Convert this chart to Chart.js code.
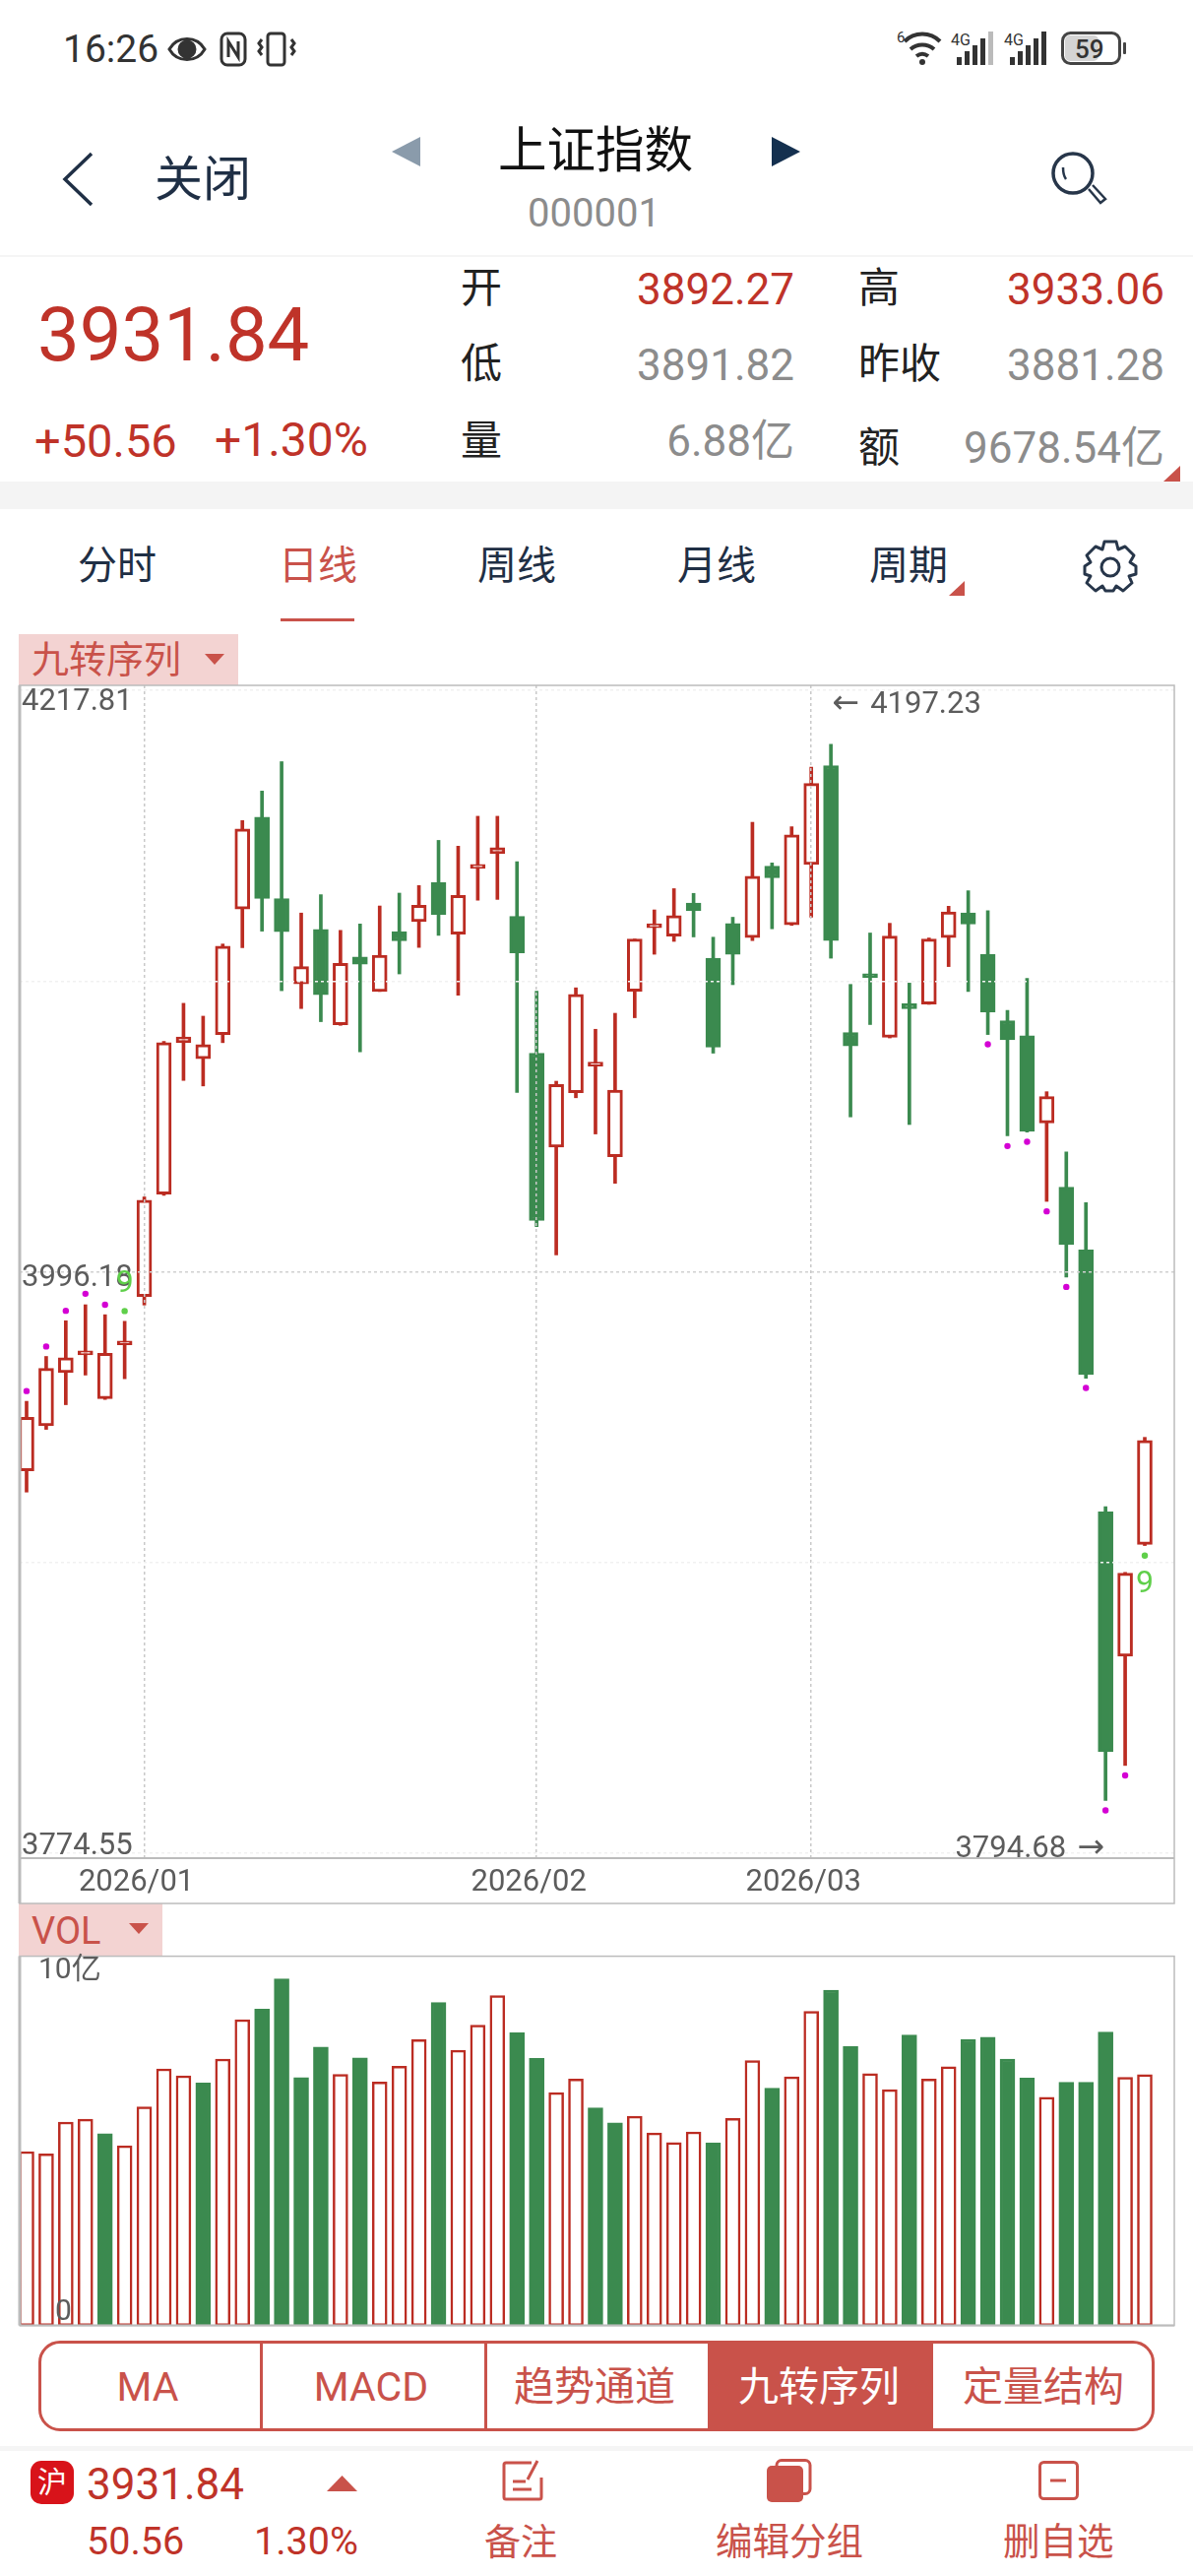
<!DOCTYPE html>
<html lang="zh-CN">
<head>
<meta charset="UTF-8">
<title>上证指数</title>
<style>
    html, body { margin: 0; padding: 0; background: #fff; }
    #page { position: relative; width: 1212px; height: 2616px; overflow: hidden; background: #fff;
        font-family: Roboto, "Noto Sans CJK SC", sans-serif; }
    .t { position: absolute; line-height: 1; white-space: nowrap; transform: translateY(-50%); }
    .r { color: #bf3329; }
    .g { color: #8c8c8c; }
    .n { color: #1f2f45; }
    .a { color: #c9524a; }
    .b { position: absolute; }
    canvas { position: absolute; left: 0; }
    svg { position: absolute; overflow: visible; }
</style>
</head>
<body>
<div id="page">
    <!-- status bar -->
    <div class="t" style="left:64px;top:50px;font-size:39px;color:#333">16:26</div>
    <svg style="left:170px;top:32px" width="40" height="36" fill="none" stroke="#333" stroke-width="3"><path d="M2 18C10 4 30 4 38 18C30 32 10 32 2 18Z"/><circle cx="20" cy="18" r="8" fill="#333"/></svg>
    <svg style="left:223px;top:32px" width="28" height="36" fill="none" stroke="#333" stroke-width="3"><rect x="2" y="2" width="24" height="32" rx="6"/><path d="M9 26V10L19 26V10"/></svg>
    <svg style="left:261px;top:32px" width="40" height="36" fill="none" stroke="#333" stroke-width="3"><rect x="11" y="2" width="17" height="32" rx="3"/><path d="M5 8l-3 4 3 4-3 4 3 4M35 8l3 4-3 4 3 4-3 4"/></svg>
    <svg style="left:913px;top:30px" width="46" height="36" fill="none" stroke="#333" stroke-width="4"><path d="M6 12C16 2 32 2 42 12M12 20C19 14 29 14 36 20M18 27C22 24 26 24 30 27"/><circle cx="24" cy="33" r="3" fill="#333" stroke="none"/></svg>
    <div class="t" style="left:911px;top:38px;font-size:15px;color:#333">6</div>
    <svg style="left:966px;top:32px" width="46" height="34" fill="#333"><rect x="6" y="26" width="5" height="8"/><rect x="14" y="20" width="5" height="14"/><rect x="22" y="14" width="5" height="20"/><rect x="30" y="7" width="5" height="27"/><rect x="38" y="0" width="5" height="34" fill="#bbb"/></svg>
    <div class="t" style="left:966px;top:41px;font-size:16px;color:#333">4G</div>
    <svg style="left:1020px;top:32px" width="46" height="34" fill="#333"><rect x="6" y="26" width="5" height="8"/><rect x="14" y="20" width="5" height="14"/><rect x="22" y="14" width="5" height="20"/><rect x="30" y="7" width="5" height="27"/><rect x="38" y="0" width="5" height="34"/></svg>
    <div class="t" style="left:1020px;top:41px;font-size:16px;color:#333">4G</div>
    <svg style="left:1078px;top:32px" width="66" height="34"><rect x="1.5" y="1.5" width="58" height="31" rx="8" fill="#fff" stroke="#444" stroke-width="3"/><rect x="4" y="4" width="34" height="26" rx="5" fill="#d4d4d4"/><rect x="63" y="11" width="3" height="12" rx="1" fill="#444"/></svg>
    <div class="t" style="left:1092px;top:50px;font-size:26px;color:#333;font-weight:500">59</div>

    <!-- header -->
    <svg style="left:63px;top:155px" width="32" height="54" fill="none" stroke="#1f2f45" stroke-width="3.5"><path d="M30 1L3 27L30 53"/></svg>
    <div class="t n" style="left:157px;top:182px;font-size:49px">关闭</div>
    <svg style="left:398px;top:139px" width="30" height="30" fill="#8a9bab"><path d="M29 0V30L0 15Z"/></svg>
    <div class="t" style="left:506px;top:154px;font-size:49.5px;color:#111">上证指数</div>
    <svg style="left:784px;top:139px" width="30" height="30" fill="#14304f"><path d="M0 0V30L29 15Z"/></svg>
    <div class="t g" style="left:536px;top:217px;font-size:40px">000001</div>
    <svg style="left:1068px;top:154px" width="58" height="56" fill="none" stroke="#27364a" stroke-width="3.5"><circle cx="22" cy="22" r="20"/><path d="M12 16C12 20 12 24 15 28" stroke-width="2.5"/><path d="M38 38L50 52L55 48L42 34" stroke-width="2.5"/></svg>
    <div class="b" style="left:0;top:259px;width:1212px;height:2px;background:#f5f5f5"></div>

    <!-- quote block -->
    <div class="t r" style="left:38px;top:340px;font-size:76px">3931.84</div>
    <div class="t r" style="left:35px;top:447px;font-size:47px">+50.56</div>
    <div class="t r" style="left:218px;top:447px;font-size:48px">+1.30%</div>

    <div class="t n" style="left:468px;top:293px;font-size:42px;color:#222">开</div>
    <div class="t r" style="right:405px;top:294px;font-size:44px">3892.27</div>
    <div class="t n" style="left:872px;top:293px;font-size:42px;color:#222">高</div>
    <div class="t r" style="right:29px;top:294px;font-size:44px">3933.06</div>

    <div class="t n" style="left:468px;top:370px;font-size:42px;color:#222">低</div>
    <div class="t g" style="right:405px;top:371px;font-size:44px">3891.82</div>
    <div class="t n" style="left:872px;top:370px;font-size:42px;color:#222">昨收</div>
    <div class="t g" style="right:29px;top:371px;font-size:44px">3881.28</div>

    <div class="t n" style="left:468px;top:448px;font-size:42px;color:#222">量</div>
    <div class="t g" style="right:405px;top:448px;font-size:44px">6.88亿</div>
    <div class="t n" style="left:872px;top:455px;font-size:42px;color:#222">额</div>
    <div class="t g" style="right:29px;top:455px;font-size:44px">9678.54亿</div>
    <svg style="left:1182px;top:473px" width="17" height="16" fill="#c9524a"><path d="M17 0V16H0Z"/></svg>
    <div class="b" style="left:0;top:489px;width:1212px;height:28px;background:#f4f4f4"></div>

    <!-- period tabs -->
    <div class="t n" style="left:79px;top:575px;font-size:40px">分时</div>
    <div class="t a" style="left:283px;top:575px;font-size:40px">日线</div>
    <div class="t n" style="left:485px;top:575px;font-size:40px">周线</div>
    <div class="t n" style="left:688px;top:575px;font-size:40px">月线</div>
    <div class="t n" style="left:883px;top:575px;font-size:40px">周期</div>
    <svg style="left:964px;top:590px" width="16" height="15" fill="#c9524a"><path d="M16 0V15H0Z"/></svg>
    <svg style="left:1100px;top:548px" width="56" height="54" fill="none" stroke="#27364a" stroke-width="3"><path d="M22 2H34L36 10L43 7L52 16L48 23L54 27V27L54 35L47 37L50 44L41 52L34 47L31 52H23L20 47L13 52L4 44L8 37L2 35V27L8 23L4 16L13 7L20 10Z" stroke-linejoin="round"/><circle cx="28" cy="28" r="9"/></svg>
    <div class="b" style="left:285px;top:628px;width:75px;height:3px;background:#c9524a"></div>

    <!-- indicator tags -->
    <div class="b" style="left:19px;top:644px;width:223px;height:52px;background:#f3d3d2"></div>
    <div class="t a" style="left:32px;top:670px;font-size:38px">九转序列</div>
    <svg style="left:208px;top:664px" width="20" height="11" fill="#c9524a"><path d="M0 0H20L10 11Z"/></svg>
    <div class="b" style="left:19px;top:1933px;width:146px;height:53px;background:#f3d3d2"></div>
    <div class="t a" style="left:32px;top:1961px;font-size:38px">VOL</div>
    <svg style="left:131px;top:1953px" width="20" height="11" fill="#c9524a"><path d="M0 0H20L10 11Z"/></svg>

    <canvas id="price-chart" width="1212" height="1260" style="top:680px"></canvas>
    <canvas id="vol-chart" width="1212" height="390" style="top:1980px"></canvas>

    <!-- indicator buttons -->
    <div class="b" style="left:39px;top:2377px;width:1134px;height:92px;box-sizing:border-box;border:3px solid #c9524a;border-radius:22px;overflow:hidden">
        <div class="b" style="left:222px;top:0;width:3px;height:86px;background:#c9524a"></div>
        <div class="b" style="left:450px;top:0;width:3px;height:86px;background:#c9524a"></div>
        <div class="b" style="left:677px;top:0;width:229px;height:86px;background:#c9524a"></div>
    </div>
    <div class="t a" style="left:150px;top:2424px;font-size:41px;transform:translate(-50%,-50%)">MA</div>
    <div class="t a" style="left:377px;top:2424px;font-size:41px;transform:translate(-50%,-50%)">MACD</div>
    <div class="t a" style="left:604px;top:2424px;font-size:41px;transform:translate(-50%,-50%)">趋势通道</div>
    <div class="t" style="left:832px;top:2424px;font-size:41px;color:#fff;transform:translate(-50%,-50%)">九转序列</div>
    <div class="t a" style="left:1060px;top:2424px;font-size:41px;transform:translate(-50%,-50%)">定量结构</div>

    <!-- bottom bar -->
    <div class="b" style="left:0;top:2484px;width:1212px;height:5px;background:#f5f5f5"></div>
    <div class="b" style="left:31px;top:2499px;width:44px;height:44px;border-radius:11px;background:#d8131a"></div>
    <div class="t" style="left:38px;top:2521px;font-size:30px;color:#fff">沪</div>
    <div class="t r" style="left:88px;top:2523px;font-size:44px">3931.84</div>
    <svg style="left:332px;top:2514px" width="31" height="16" fill="#c9524a"><path d="M0 16H31L15.5 0Z"/></svg>
    <div class="t r" style="left:88px;top:2581px;font-size:39.5px">50.56</div>
    <div class="t r" style="left:258px;top:2581px;font-size:39.5px">1.30%</div>

    <svg style="left:510px;top:2498px" width="44" height="44" fill="none" stroke="#c9524a" stroke-width="3"><path d="M30 3H4A2 2 0 0 0 2 5V38A2 2 0 0 0 4 40H38A2 2 0 0 0 40 38V18"/><path d="M36 1L26 20M11 22H24M11 30H30"/></svg>
    <div class="t a" style="left:492px;top:2582px;font-size:37px">备注</div>
    <svg style="left:779px;top:2497px" width="46" height="44"><rect x="10" y="1.5" width="34" height="34" rx="5" fill="#fff" stroke="#c9524a" stroke-width="3"/><rect x="0" y="7" width="37" height="37" rx="5" fill="#c9524a"/></svg>
    <div class="t a" style="left:727px;top:2582px;font-size:37.5px">编辑分组</div>
    <svg style="left:1055px;top:2499px" width="41" height="40" fill="none" stroke="#c9524a" stroke-width="3"><rect x="1.5" y="1.5" width="38" height="37" rx="4"/><path d="M12 20H28"/></svg>
    <div class="t a" style="left:1019px;top:2582px;font-size:37.5px">删自选</div>
</div>

<script src="https://cdn.jsdelivr.net/npm/chart.js@4.4.1/dist/chart.umd.min.js"></script>
<script>
    const opens = [3920.3,3937.5,3957.7,3964.5,3947.8,3968.3,3986.7,4025.8,4083.5,4077.4,
        4086.6,4134.4,4169.5,4138.4,4105.9,4126.7,4090.3,4116.2,4103.0,4125.8,
        4129.6,4144.5,4124.9,4149.9,4155.5,4131.6,4079.5,4043.7,4064.4,4074.6,
        4040.0,4103.1,4127.3,4124.1,4136.7,4115.7,4128.9,4123.5,4150.8,4128.4,
        4151.4,4189.1,4087.4,4109.6,4085.5,4098.4,4098.2,4123.5,4133.0,4117.2,
        4091.9,4086.1,4052.9,4028.4,4004.5,3904.7,3849.6,3892.27];
    const closes = [3940.7,3959.4,3963.4,3965.5,3965.1,3969.1,4023.5,4083.5,4085.7,4082.8,
        4120.3,4165.0,4138.5,4125.8,4112.5,4101.8,4113.7,4113.4,4116.8,4122.3,
        4135.9,4132.4,4139.6,4151.1,4157.8,4117.7,4015.7,4067.6,4101.9,4075.7,
        4065.4,4123.0,4128.4,4131.9,4133.8,4081.8,4117.2,4146.9,4146.3,4162.7,
        4182.3,4122.4,4082.3,4108.3,4124.1,4096.4,4123.0,4133.3,4128.7,4095.2,
        4084.6,4049.7,4063.0,4006.5,3957.0,3813.2,3881.28,3931.84];
    const highs = [3946.8,3963.9,3977.5,3983.6,3979.8,3977.3,4024.7,4084.0,4098.5,4093.6,
        4121.1,4168.1,4179.4,4190.6,4132.9,4139.9,4126.3,4128.7,4135.6,4140.5,
        4143.4,4160.6,4158.4,4169.8,4169.8,4152.5,4103.1,4068.8,4104.4,4088.6,
        4094.7,4123.0,4134.1,4142.2,4140.4,4123.7,4131.3,4167.5,4152.0,4165.8,
        4188.5,4197.23,4105.7,4125.3,4129.0,4106.2,4123.4,4135.5,4141.4,4133.8,
        4095.8,4108.0,4064.8,4041.8,4022.5,3906.6,3881.6,3933.06];
    const lows = [3912.2,3936.1,3945.5,3956.8,3947.5,3955.4,3983.5,4025.3,4069.1,4067.0,
        4083.5,4119.7,4126.0,4103.3,4096.5,4091.5,4090.1,4080.0,4103.0,4109.7,
        4119.8,4124.4,4101.6,4137.8,4138.1,4064.5,4013.4,4002.6,4062.5,4048.7,
        4029.9,4093.0,4117.2,4122.1,4123.8,4079.5,4105.6,4122.4,4126.9,4128.2,
        4131.3,4115.7,4055.2,4090.4,4085.3,4052.3,4098.1,4112.5,4103.0,4086.6,
        4048.0,4049.4,4023.0,3994.1,3955.6,3794.68,3808.0,3891.82];

    // volume in 亿
    const volumes = [4.77,4.71,5.58,5.66,5.26,4.93,6.00,7.04,6.85,6.65,
        7.31,8.39,8.68,9.51,6.80,7.64,6.89,7.34,6.68,7.11,
        7.84,8.86,7.55,8.24,9.05,8.03,7.33,6.39,6.76,5.97,
        5.56,5.74,5.28,5.02,5.31,5.01,5.68,7.27,6.51,6.82,
        8.62,9.20,7.65,6.91,6.47,7.97,6.76,7.10,7.85,7.91,
        7.31,6.79,6.26,6.67,6.67,8.05,6.81,6.88];
    const volumeDownDays = [4,9,12,13,14,15,17,21,25,26,29,30,35,38,41,42,45,48,49,50,51,53,54,55];

    const magentaDays = [0,1,2,3,4,49,50,51,52,53,54,55,56];
    const magentaValues = [3950.7,3967.7,3981.3,3987.8,3983.6,4082.9,4044.1,4045.7,4019.2,3990.4,3951.9,3790.9,3804.2];
    const greenDays = [5,57];
    const greenValues = [3981.2,3888.0];

    const priceGridTicks = [3774.55,3885.365,3996.18,4106.995,4217.81];
    const priceLabels = ['4217.81','3996.18','3774.55'];
    const monthDays = [6,26,40];
    const monthLabels = ['2026/01','2026/02','2026/03'];
    const highLabel = '4197.23';
    const lowLabel = '3794.68';
    const volLabels = ['10亿','0'];

    const RED = '#bb2c22';
    const GREEN = '#3b8a4f';
    const X_MIN = -0.351;
    const X_MAX = 58.505;
    const LABEL_FONT = '31px Roboto';
    const ARROW_FONT = '33px "DejaVu Sans"';
    const LABEL_COLOR = '#5c5c5c';

    Chart.defaults.animation = false;
    Chart.defaults.plugins.legend.display = false;
    Chart.defaults.plugins.tooltip.enabled = false;

    function drawFrame(chart, bottomExtra) {
        const ctx = chart.ctx, a = chart.chartArea;
        ctx.save();
        ctx.strokeStyle = '#bcbcbc';
        ctx.lineWidth = 1.5;
        ctx.strokeRect(a.left, a.top, a.right - a.left, a.bottom - a.top + bottomExtra);
        ctx.beginPath();
        ctx.moveTo(a.left, a.bottom);
        ctx.lineTo(a.right, a.bottom);
        ctx.lineWidth = 2;
        ctx.stroke();
        ctx.beginPath();
        ctx.moveTo(a.left, a.top);
        ctx.lineTo(a.left, a.bottom + bottomExtra);
        ctx.lineWidth = 3;
        ctx.stroke();
        ctx.restore();
    }

    const priceOverlay = {
        id: 'priceOverlay',
        afterDraw(chart) {
            const ctx = chart.ctx, a = chart.chartArea;
            const xs = chart.scales.x, ys = chart.scales.y;
            const highX = xs.getPixelForValue(41), lowX = xs.getPixelForValue(55);
            drawFrame(chart, 46);
            ctx.save();
            ctx.font = LABEL_FONT;
            ctx.fillStyle = LABEL_COLOR;
            ctx.textBaseline = 'middle';
            const nudge = [12, 7, -7];
            priceLabels.forEach(function (label, i) {
                ctx.fillText(label, 22, ys.getPixelForValue(parseFloat(label)) + nudge[i]);
            });
            ctx.fillText(highLabel, highX + 40, a.top + 20);
            ctx.font = ARROW_FONT;
            ctx.fillText('←', highX + 1, a.top + 19);
            ctx.textAlign = 'right';
            ctx.fillText('→', lowX - 1, a.bottom - 10);
            ctx.font = LABEL_FONT;
            ctx.fillText(lowLabel, lowX - 40, a.bottom - 9);
            ctx.textAlign = 'center';
            ctx.fillStyle = '#5fcf4a';
            ctx.font = '32px Roboto';
            ctx.fillText('9', xs.getPixelForValue(greenDays[0]), ys.getPixelForValue(greenValues[0]) - 27);
            ctx.fillText('9', xs.getPixelForValue(greenDays[1]), ys.getPixelForValue(greenValues[1]) + 29);
            ctx.restore();
        }
    };

    const volOverlay = {
        id: 'volOverlay',
        afterDraw(chart) {
            const ctx = chart.ctx, a = chart.chartArea;
            drawFrame(chart, 0);
            ctx.save();
            ctx.font = '30px Roboto, "Noto Sans CJK SC"';
            ctx.fillStyle = LABEL_COLOR;
            ctx.textBaseline = 'middle';
            ctx.fillText(volLabels[0], 39, a.top + 15);
            ctx.fillText(volLabels[1], 56, a.bottom - 13);
            ctx.restore();
        }
    };

    const days = opens.map(function (v, i) { return i; });
    const isUp = days.map(function (i) { return closes[i] >= opens[i]; });

    new Chart(document.getElementById('price-chart'), {
        type: 'bar',
        data: {
            datasets: [
                {
                    type: 'scatter',
                    data: magentaDays.map(function (d, i) { return { x: d, y: magentaValues[i] }; }),
                    pointRadius: 3.2,
                    pointBackgroundColor: '#d400d4',
                    pointBorderWidth: 0
                },
                {
                    type: 'scatter',
                    data: greenDays.map(function (d, i) { return { x: d, y: greenValues[i] }; }),
                    pointRadius: 3.2,
                    pointBackgroundColor: '#5fcf4a',
                    pointBorderWidth: 0
                },
                {
                    // candle bodies
                    data: days.map(function (i) { return { x: i, y: [opens[i], closes[i]] }; }),
                    barThickness: 15,
                    grouped: false,
                    minBarLength: 4,
                    borderSkipped: false,
                    backgroundColor: days.map(function (i) { return isUp[i] ? '#fff' : GREEN; }),
                    borderColor: days.map(function (i) { return isUp[i] ? RED : GREEN; }),
                    borderWidth: 3
                },
                {
                    // wicks
                    data: days.map(function (i) { return { x: i, y: [lows[i], highs[i]] }; }),
                    barThickness: 3,
                    grouped: false,
                    backgroundColor: days.map(function (i) { return isUp[i] ? RED : GREEN; }),
                    borderWidth: 0
                }
            ]
        },
        options: {
            responsive: false,
            layout: { padding: { left: 20, right: 19, top: 16, bottom: 7 } },
            scales: {
                x: {
                    type: 'linear',
                    offset: false,
                    min: X_MIN,
                    max: X_MAX,
                    afterBuildTicks: function (scale) {
                        scale.ticks = monthDays.map(function (d) { return { value: d }; });
                    },
                    afterFit: function (scale) { scale.height = 46; },
                    ticks: {
                        autoSkip: false,
                        maxRotation: 0,
                        padding: 7,
                        labelOffset: -8,
                        color: LABEL_COLOR,
                        font: { family: 'Roboto', size: 31 },
                        callback: function (value) { return monthLabels[monthDays.indexOf(value)]; }
                    },
                    grid: { offset: false, z: 1, color: '#c9c9c9', lineWidth: 1.5, drawTicks: false, tickLength: 0 },
                    border: { display: false, dash: [3, 3] }
                },
                y: {
                    min: 3772.67,
                    max: 4219.69,
                    afterBuildTicks: function (scale) {
                        scale.ticks = priceGridTicks.map(function (v) { return { value: v }; });
                    },
                    afterFit: function (scale) { scale.width = 0; },
                    ticks: { display: false },
                    grid: {
                        z: 1,
                        lineWidth: 1.5,
                        drawTicks: false,
                        color: function (c) { return c.tick && c.tick.value === 3996.18 ? '#d0d0d0' : '#f1f1f1'; }
                    },
                    border: { display: false, dash: [3, 3] }
                }
            }
        },
        plugins: [priceOverlay]
    });

    new Chart(document.getElementById('vol-chart'), {
        type: 'bar',
        data: {
            datasets: [{
                data: days.map(function (i) { return { x: i, y: volumes[i] }; }),
                barThickness: 15,
                grouped: false,
                borderSkipped: false,
                backgroundColor: days.map(function (i) { return volumeDownDays.includes(i) ? GREEN : '#fff'; }),
                borderColor: days.map(function (i) { return volumeDownDays.includes(i) ? GREEN : RED; }),
                borderWidth: 2.5
            }]
        },
        options: {
            responsive: false,
            layout: { padding: { left: 20, right: 19, top: 6.6, bottom: 8.4 } },
            scales: {
                x: { type: 'linear', offset: false, min: X_MIN, max: X_MAX, display: false, grid: { offset: false } },
                y: { min: 0, max: 10.13, display: false }
            }
        },
        plugins: [volOverlay]
    });
</script>
</body>
</html>
